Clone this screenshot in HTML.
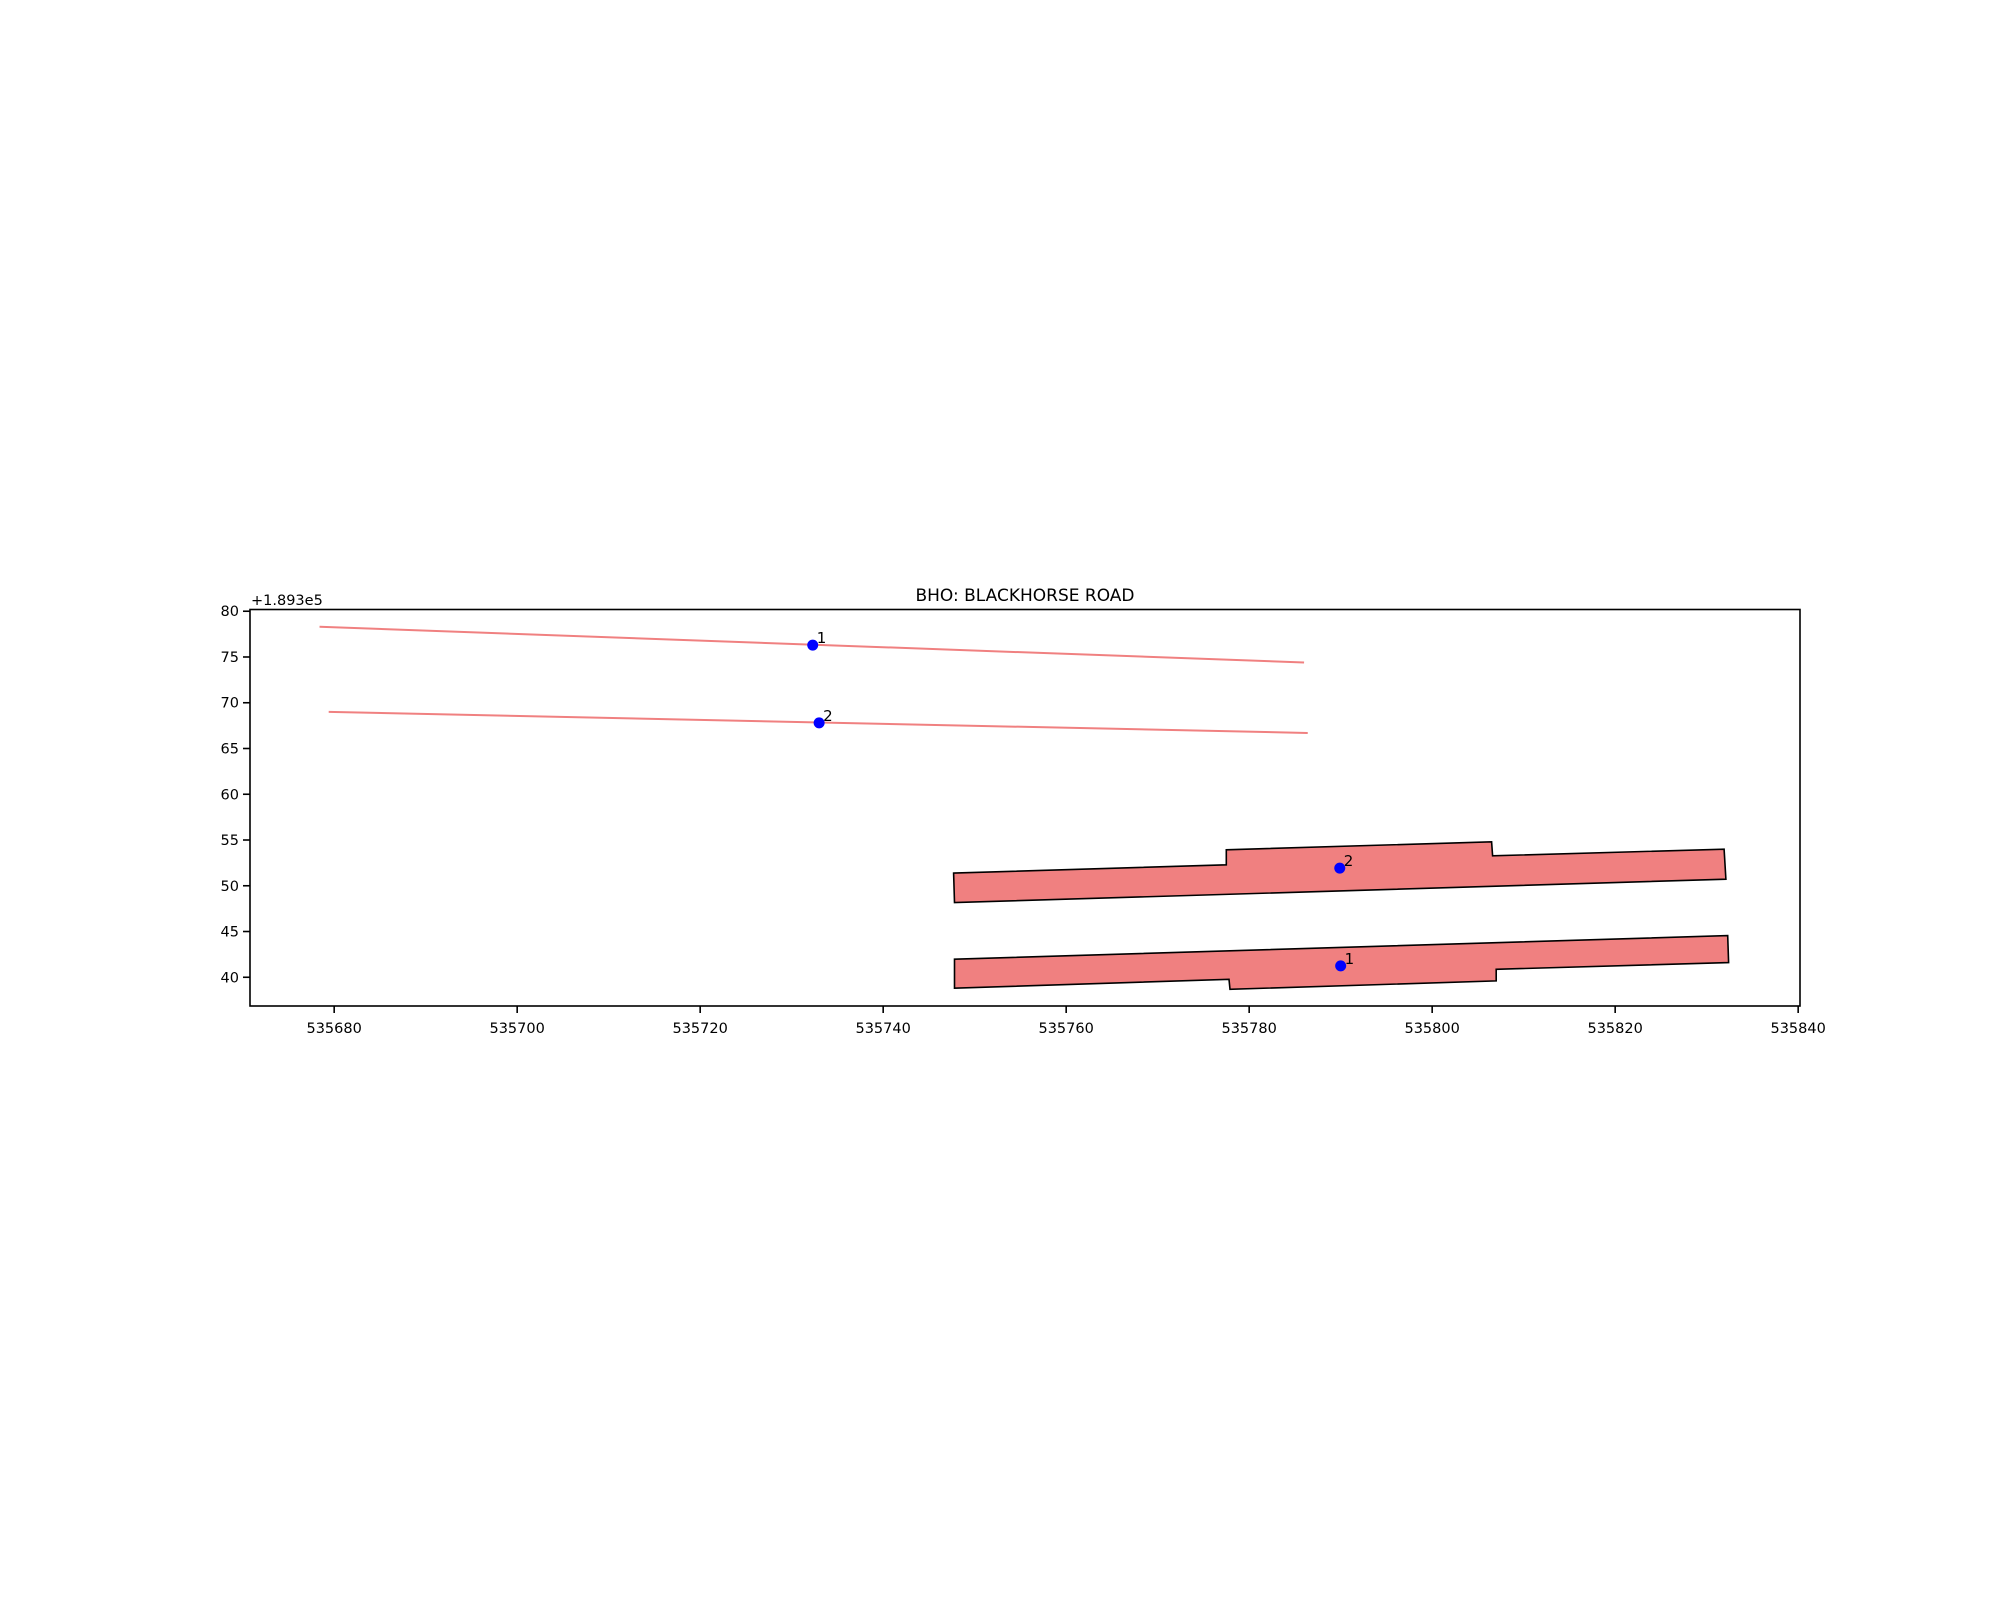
<!DOCTYPE html>
<html><head><meta charset="utf-8"><style>
html,body{margin:0;padding:0;background:#fff;}
svg{display:block;font-family:"DejaVu Sans","Liberation Sans",sans-serif;}
</style></head><body>
<svg id="chart" width="2000" height="1600" viewBox="0 0 2000 1600"></svg>
<script>
const xTicks = [535680, 535700, 535720, 535740, 535760, 535780, 535800, 535820, 535840];
const yTicks = [40, 45, 50, 55, 60, 65, 70, 75, 80];
const lineXs = [[535678.4, 535786.0], [535679.4, 535786.4]];
const lineYs = [[78.3, 74.4], [69.0, 66.7]];
const lineLabels = ["1", "2"];
const linePointX = [535732.3, 535733.0];
const linePointY = [76.3, 67.8];
const polyXs = [
  [535747.8, 535832.3, 535832.4, 535807.0, 535807.0, 535777.9, 535777.8, 535747.8],
  [535747.7, 535777.5, 535777.5, 535806.5, 535806.6, 535831.9, 535832.1, 535747.8]
];
const polyYs = [
  [41.97, 44.55, 41.6, 40.87, 39.6, 38.69, 39.78, 38.80],
  [51.38, 52.29, 53.93, 54.80, 53.27, 54.0, 50.72, 48.16]
];
const polyLabels = ["1", "2"];
const polyPointX = [535790.0, 535789.9];
const polyPointY = [41.24, 51.93];

const L = 250, R = 1800, T = 609.5, B = 1006;
const xMin = 535670.8, xMax = 535840.2, yMin = 36.86, yMax = 80.19;
const sx = v => L + (v - xMin) / (xMax - xMin) * (R - L);
const sy = v => B - (v - yMin) / (yMax - yMin) * (B - T);
const NS = "http://www.w3.org/2000/svg";
const svg = document.getElementById('chart');
function mk(tag, attrs, parent) {
  const e = document.createElementNS(NS, tag);
  for (const k in attrs) e.setAttribute(k, attrs[k]);
  (parent || svg).appendChild(e);
  return e;
}

polyXs.forEach((xs, i) => {
  const pts = xs.map((x, j) => sx(x).toFixed(1) + ',' + sy(polyYs[i][j]).toFixed(1)).join(' ');
  const p = mk('polygon', {points: pts, fill: '#f08080', stroke: '#000', 'stroke-width': 1.6});
  
  
});
lineXs.forEach((xs, i) => {
  const l = mk('line', {x1: sx(xs[0]), y1: sy(lineYs[i][0]), x2: sx(xs[1]), y2: sy(lineYs[i][1]), stroke: '#f08080', 'stroke-width': 2});
  
  
});
function pt(x, y, lab, kind) {
  const c = mk('ellipse', {cx: sx(x), cy: sy(y), rx: 5.5, ry: 5.5, fill: '#0000ff'});
  
  
  const t = mk('text', {x: sx(x) + 4, y: sy(y) - 2, 'font-size': 15, fill: '#000'});
  t.textContent = lab;
  
  
}
linePointX.forEach((x, i) => pt(x, linePointY[i], lineLabels[i], 'line'));
polyPointX.forEach((x, i) => pt(x, polyPointY[i], polyLabels[i], 'platform'));

const fr = mk('rect', {x: L, y: T, width: R - L, height: B - T, fill: 'none', stroke: '#000', 'stroke-width': 1.6});



xTicks.forEach(v => {
  const x = sx(v);
  const tk = mk('line', {x1: x, y1: B, x2: x, y2: B + 7, stroke: '#000', 'stroke-width': 1.6});
  
  
  const t = mk('text', {x: x, y: B + 27, 'font-size': 14.5, 'text-anchor': 'middle', fill: '#000'});
  t.textContent = v;
  
  
});
yTicks.forEach(v => {
  const y = sy(v);
  const tk = mk('line', {x1: L - 7, y1: y, x2: L, y2: y, stroke: '#000', 'stroke-width': 1.6});
  
  
  const t = mk('text', {x: L - 11, y: y + 5, 'font-size': 14.5, 'text-anchor': 'end', fill: '#000'});
  t.textContent = v;
  
  
});
const off = mk('text', {x: L + 1, y: 605, 'font-size': 14.5, fill: '#000'});
off.textContent = '+1.893e5';


const title = mk('text', {x: (L + R) / 2, y: 601, 'font-size': 17, 'text-anchor': 'middle', fill: '#000'});
title.textContent = 'BHO: BLACKHORSE ROAD';


</script>
</body></html>
